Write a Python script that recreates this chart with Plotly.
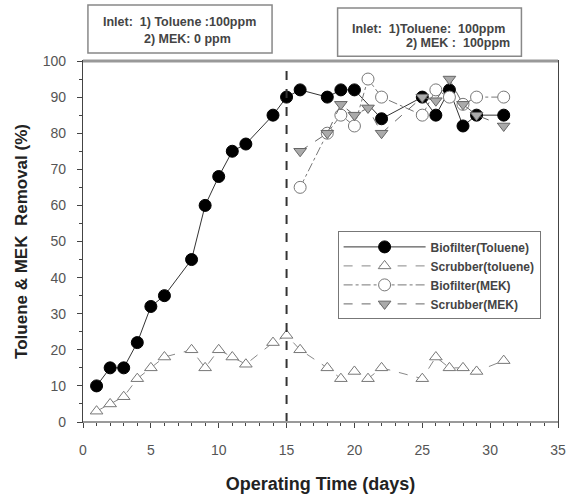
import plotly.graph_objects as go

# ---- data ----
bio_tol_days = [1, 2, 3, 4, 5, 6, 8, 9, 10, 11, 12, 14, 15, 16, 18, 19, 20, 22, 25, 26, 27, 28, 29, 31]
bio_tol_vals = [10, 15, 15, 22, 32, 35, 45, 60, 68, 75, 77, 85, 90, 92, 90, 92, 92, 84, 90, 85, 92, 82, 85, 85]

scr_tol_days = [1, 2, 3, 4, 5, 6, 8, 9, 10, 11, 12, 14, 15, 16, 18, 19, 20, 21, 22, 25, 26, 27, 28, 29, 31]
scr_tol_vals = [3, 5, 7, 12, 15, 18, 20, 15, 20, 18, 16, 22, 24, 20, 15, 12, 14, 12, 15, 12, 18, 15, 15, 14, 17]

bio_mek_days = [16, 18, 19, 20, 21, 22, 25, 26, 27, 28, 29, 31]
bio_mek_vals = [65, 80, 85, 82, 95, 90, 85, 92, 90, 88, 90, 90]

scr_mek_days = [16, 18, 19, 20, 21, 22, 25, 26, 27, 28, 29, 31]
scr_mek_vals = [75, 80, 88, 85, 87, 80, 90, 89, 95, 88, 85, 82]

series_names = ["Biofilter(Toluene)", "Scrubber(toluene)", "Biofilter(MEK)", "Scrubber(MEK)"]
x_title = "Operating Time (days)"
y_title = "Toluene &amp; MEK  Removal (%)"
box1_lines = ["Inlet:  1) Toluene :100ppm", "2) MEK: 0 ppm"]
box2_lines = ["Inlet:  1)Toluene:  100ppm", "2) MEK :  100ppm"]
switch_day = 15

FONT = "Liberation Sans, Arial"

fig = go.Figure()

fig.add_trace(go.Scatter(
    x=bio_tol_days, y=bio_tol_vals, name=series_names[0], mode="lines+markers",
    line=dict(color="#333333", width=1),
    marker=dict(symbol="circle", size=12, color="#000000", line=dict(color="#000000", width=1)),
))
fig.add_trace(go.Scatter(
    x=scr_tol_days, y=scr_tol_vals, name=series_names[1], mode="lines+markers",
    line=dict(color="#888888", width=1, dash="dash"),
    marker=dict(symbol="triangle-up", size=11, color="white", line=dict(color="#777777", width=1)),
))
fig.add_trace(go.Scatter(
    x=bio_mek_days, y=bio_mek_vals, name=series_names[2], mode="lines+markers",
    line=dict(color="#777777", width=1, dash="dashdot"),
    marker=dict(symbol="circle", size=12, color="white", line=dict(color="#777777", width=1)),
))
fig.add_trace(go.Scatter(
    x=scr_mek_days, y=scr_mek_vals, name=series_names[3], mode="lines+markers",
    line=dict(color="#666666", width=1, dash="dash"),
    marker=dict(symbol="triangle-down", size=11, color="#aaaaaa", line=dict(color="#666666", width=1)),
))

fig.add_shape(type="line", x0=switch_day, x1=switch_day, y0=0, y1=100, xref="x", yref="y",
              line=dict(color="#333333", width=2, dash="dash"))
fig.add_shape(type="line", x0=0, x1=1, y0=1, y1=1, xref="paper", yref="paper",
              line=dict(color="#999999", width=3))
fig.add_shape(type="line", x0=0, x1=1, y0=0, y1=0, xref="paper", yref="paper",
              line=dict(color="#999999", width=2))

# inlet boxes (paper coords; plot area 83..566 x, 61..423 y)
fig.add_shape(type="rect", xref="paper", yref="paper", x0=0.0104, x1=0.398, y0=1.022, y1=1.155,
              line=dict(color="#888888", width=1.5), fillcolor="white")
fig.add_shape(type="rect", xref="paper", yref="paper", x0=0.536, x1=0.923, y0=1.013, y1=1.147,
              line=dict(color="#888888", width=1.5), fillcolor="white")

afont = dict(family=FONT, size=12.5, color="#444444")
fig.add_annotation(text="<b>" + box1_lines[0] + "</b>", xref="paper", yref="paper",
                   x=0.203, y=1.108, showarrow=False, font=afont, xanchor="center", yanchor="middle")
fig.add_annotation(text="<b>" + box1_lines[1] + "</b>", xref="paper", yref="paper",
                   x=0.221, y=1.061, showarrow=False, font=afont, xanchor="center", yanchor="middle")
fig.add_annotation(text="<b>" + box2_lines[0] + "</b>", xref="paper", yref="paper",
                   x=0.727, y=1.088, showarrow=False, font=afont, xanchor="center", yanchor="middle")
fig.add_annotation(text="<b>" + box2_lines[1] + "</b>", xref="paper", yref="paper",
                   x=0.79, y=1.050, showarrow=False, font=afont, xanchor="center", yanchor="middle")

axis_common = dict(
    showgrid=False, zeroline=False, showline=True, linecolor="#444444", linewidth=1.2,
    mirror=True, ticks="outside", ticklen=5, tickcolor="#444444", tickwidth=1,
    tickfont=dict(family=FONT, size=14, color="#555555"),
)

fig.update_xaxes(range=[0, 35], dtick=5, tick0=0, ticklabelstandoff=10,
                 minor=dict(dtick=1, ticks="outside", ticklen=3, tickcolor="#444444"),
                 title=dict(text="<b>" + x_title + "</b>",
                            font=dict(family=FONT, size=18, color="#222222"),
                            standoff=20),
                 **axis_common)
fig.update_yaxes(range=[0, 100], dtick=10, tick0=0, ticklabelstandoff=8,
                 minor=dict(dtick=5, ticks="outside", ticklen=3, tickcolor="#444444"),
                 title=dict(text="<b>" + y_title + "</b>",
                            font=dict(family=FONT, size=17, color="#222222"),
                            standoff=10),
                 **axis_common)

fig.update_layout(
    width=575, height=500,
    margin=dict(l=83, r=9, t=61, b=77),
    paper_bgcolor="white", plot_bgcolor="white",
    showlegend=True,
    legend=dict(x=0.536, y=0.528, xanchor="left", yanchor="top",
                bordercolor="#777777", borderwidth=1, bgcolor="white",
                font=dict(family=FONT, size=12, color="#444444"),
                itemwidth=82, tracegroupgap=0),
)

for tr in fig.data:
    tr.name = "<b>" + tr.name + "</b>"

fig.write_html("out.html")
